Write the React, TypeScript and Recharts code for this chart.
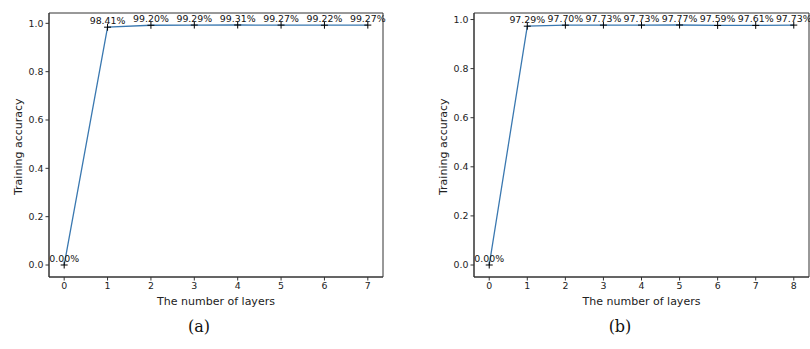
import { LineChart, Line, XAxis, YAxis, LabelList, ReferenceArea } from "recharts"

const layersA = [0, 1, 2, 3, 4, 5, 6, 7]
const accA = [0, 0.9841, 0.992, 0.9929, 0.9931, 0.9927, 0.9922, 0.9927]
const layersB = [0, 1, 2, 3, 4, 5, 6, 7, 8]
const accB = [0, 0.9729, 0.977, 0.9773, 0.9773, 0.9777, 0.9759, 0.9761, 0.9773]
const yTicks = [0, 0.2, 0.4, 0.6, 0.8, 1.0]

const FONT = "'DejaVu Sans', sans-serif"
const AXIS = "#333"

function Plus(props: any) {
  const { cx, cy } = props
  if (cx == null || cy == null) return null
  return (
    <g stroke="#000" strokeWidth={1}>
      <line x1={cx - 3.5} x2={cx + 3.5} y1={cy} y2={cy} />
      <line x1={cx} x2={cx} y1={cy - 3.5} y2={cy + 3.5} />
    </g>
  )
}

function PctLabel(props: any) {
  const { x, y, value } = props
  return (
    <text x={x} y={y - 3} textAnchor="middle" fontSize={9.4} fontFamily={FONT} fill="#111">
      {(value * 100).toFixed(2)}%
    </text>
  )
}

interface PanelProps {
  xs: number[]
  ys: number[]
  left: number
  plotLeft: number
  plotRight: number
  caption: string
  captionX: number
}

function Panel({ xs, ys, left, plotLeft, plotRight, caption, captionX }: PanelProps) {
  const data = xs.map((x, i) => ({ x, acc: ys[i] }))
  const maxX = xs[xs.length - 1]
  const maxY = Math.max(...ys)
  const yPad = maxY * 0.05
  const xDom = [-maxX * 0.05, maxX * 1.05]
  const yDom = [-yPad, maxY + yPad]
  const width = 400
  const yAxisW = plotLeft - left
  return (
    <div style={{ position: "absolute", left, top: 0 }}>
      <LineChart
        width={width}
        height={317}
        data={data}
        margin={{ top: 13, right: width - (plotRight - left), bottom: 0, left: 0 }}
        style={{ overflow: "visible" }}
      >
        <XAxis
          dataKey="x"
          type="number"
          domain={xDom}
          ticks={xs}
          interval={0}
          allowDataOverflow
          height={40}
          stroke={AXIS}
          tickSize={3.5}
          tick={{ fontSize: 9.4, fontFamily: FONT, fill: "#222" }}
          label={{ value: "The number of layers", position: "insideBottom", offset: 12, fontSize: 11, fontFamily: FONT, fill: "#222" }}
        />
        <YAxis
          domain={yDom}
          ticks={yTicks}
          allowDataOverflow
          width={yAxisW}
          stroke={AXIS}
          tickSize={3.5}
          tickFormatter={(v: number) => v.toFixed(1)}
          tick={{ fontSize: 9.4, fontFamily: FONT, fill: "#222" }}
          label={{ value: "Training accuracy", angle: -90, position: "insideLeft", offset: yAxisW - 31, dy: 50, fontSize: 11, fontFamily: FONT, fill: "#222" }}
        />
        <ReferenceArea
          x1={xDom[0]}
          x2={xDom[1]}
          y1={yDom[0]}
          y2={yDom[1]}
          fill="none"
          fillOpacity={0}
          stroke={AXIS}
          strokeWidth={1}
          ifOverflow="visible"
        />
        <Line
          dataKey="acc"
          stroke="#3a78b0"
          strokeWidth={1.3}
          dot={<Plus />}
          activeDot={false}
          isAnimationActive={false}
        >
          <LabelList dataKey="acc" content={<PctLabel />} />
        </Line>
      </LineChart>
      <div
        style={{
          position: "absolute",
          left: captionX - left - 30,
          top: 317,
          width: 60,
          textAlign: "center",
          fontFamily: "'DejaVu Serif', serif",
          fontSize: 16,
          color: "#111",
        }}
      >
        {caption}
      </div>
    </div>
  )
}

export default function App() {
  return (
    <div style={{ position: "absolute", left: 0, top: 0, width: 810, height: 349, background: "#fff", overflow: "hidden" }}>
      <Panel xs={layersA} ys={accA} left={0} plotLeft={49} plotRight={383} caption="(a)" captionX={199} />
      <Panel xs={layersB} ys={accB} left={410} plotLeft={474} plotRight={809} caption="(b)" captionX={620} />
    </div>
  )
}
